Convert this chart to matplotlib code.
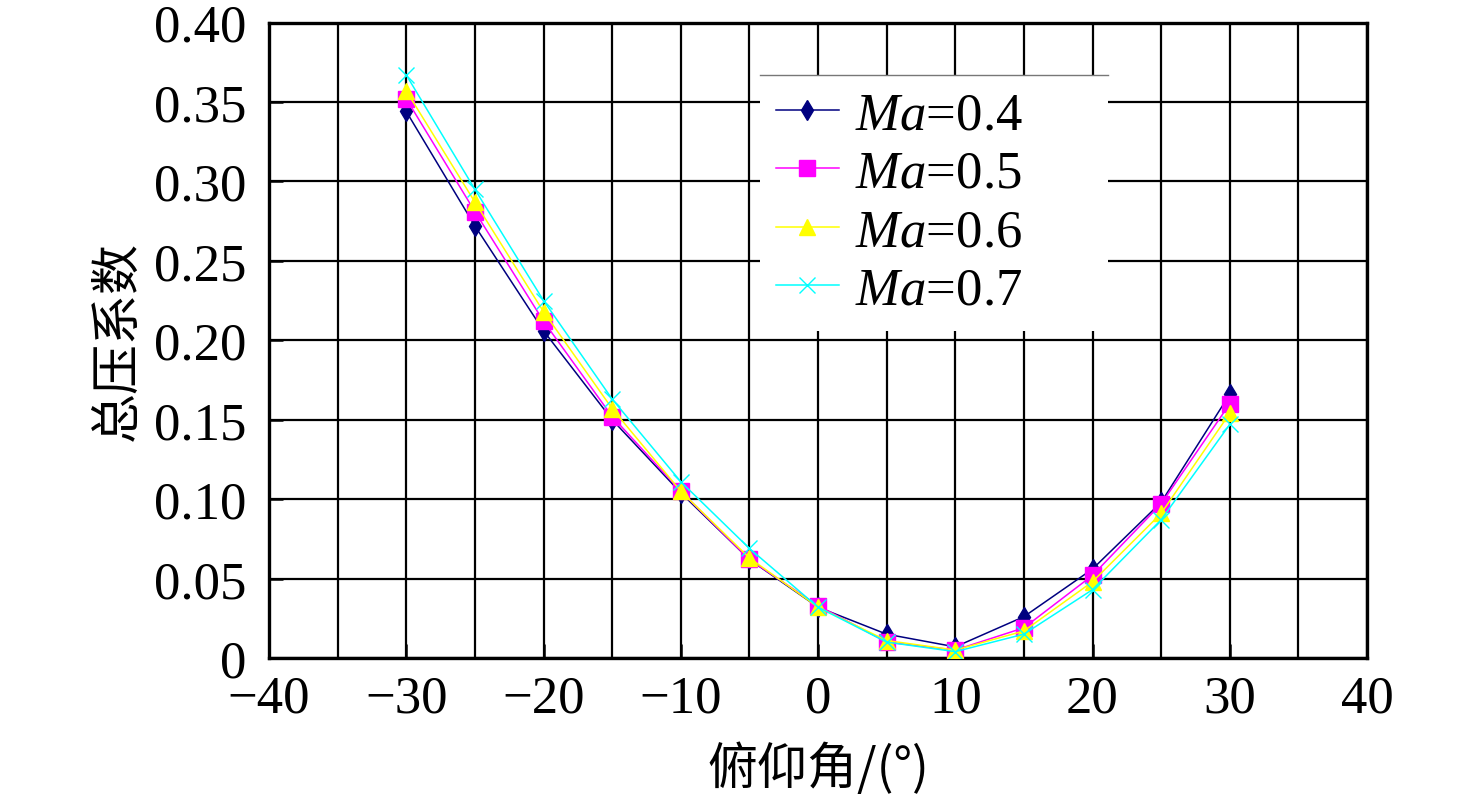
import matplotlib
matplotlib.use("Agg")
import matplotlib.pyplot as plt
from matplotlib.lines import Line2D
from matplotlib.ticker import FixedLocator, FuncFormatter

plt.rcParams["font.family"] = ["Liberation Serif", "Noto Sans CJK SC", "DejaVu Sans"]
plt.rcParams["mathtext.fontset"] = "custom"
plt.rcParams["mathtext.rm"] = "Liberation Serif"
plt.rcParams["mathtext.it"] = "Liberation Serif:italic"

# pitch angle (deg) and total pressure coefficient per Mach number
angle = [-30, -25, -20, -15, -10, -5, 0, 5, 10, 15, 20, 25, 30]
ma04 = [0.344, 0.272, 0.206, 0.150, 0.104, 0.062, 0.032, 0.015, 0.007, 0.026, 0.056, 0.098, 0.166]
ma05 = [0.352, 0.281, 0.212, 0.152, 0.105, 0.062, 0.033, 0.010, 0.005, 0.019, 0.052, 0.097, 0.160]
ma06 = [0.357, 0.287, 0.218, 0.157, 0.105, 0.063, 0.032, 0.011, 0.005, 0.017, 0.048, 0.091, 0.154]
ma07 = [0.367, 0.295, 0.225, 0.163, 0.111, 0.069, 0.032, 0.010, 0.004, 0.015, 0.043, 0.087, 0.147]
labels = [r"$\mathit{Ma}$=0.4", r"$\mathit{Ma}$=0.5", r"$\mathit{Ma}$=0.6", r"$\mathit{Ma}$=0.7"]

fig = plt.figure(figsize=(14.76, 8.04), dpi=100)
ax = fig.add_axes([269 / 1476, 145 / 804, 1098 / 1476, 635.5 / 804])

styles = [
    dict(color="#000080", marker="d", markersize=10),
    dict(color="#FF00FF", marker="s", markersize=11),
    dict(color="#FFFF00", marker="^", markersize=11),
    dict(color="#00FFFF", marker="x", markersize=11, markeredgewidth=1.0),
]
for ys, lab, st in zip([ma04, ma05, ma06, ma07], labels, styles):
    ax.plot(angle, ys, linewidth=1.1, label=lab, zorder=3, **st)

ax.set_xlim(-40, 40)
ax.set_ylim(0, 0.40)
ax.xaxis.set_major_locator(FixedLocator(range(-40, 41, 10)))
ax.xaxis.set_minor_locator(FixedLocator(range(-35, 40, 10)))
ax.yaxis.set_major_locator(FixedLocator([i * 0.05 for i in range(9)]))
ax.yaxis.set_major_formatter(FuncFormatter(lambda v, p: "0" if abs(v) < 1e-9 else f"{v:.2f}"))

ax.grid(True, which="both", color="black", linewidth=1.6)
ax.set_axisbelow(True)
for s in ax.spines.values():
    s.set_linewidth(2.4)
ax.tick_params(which="major", direction="in", length=10, width=1.8, labelsize=38)
ax.tick_params(which="minor", length=0)
ax.tick_params(axis="y", pad=16)
ax.tick_params(axis="x", pad=12)

ax.set_xlabel("俯仰角/(°)", fontsize=36, family=["Noto Sans CJK SC", "DejaVu Sans"], labelpad=14)
ax.set_ylabel("总压系数", fontsize=36, family=["Noto Sans CJK SC"], labelpad=8)

leg_x0, leg_w, leg_top = 0.447, 0.317, 0.917
leg = ax.legend(loc="upper left", bbox_to_anchor=(leg_x0, leg_top - 0.5, leg_w, 0.5),
                mode="expand", fontsize=38,
                frameon=True, fancybox=False, framealpha=1, facecolor="white",
                edgecolor="none", handlelength=1.2, handletextpad=0.3,
                labelspacing=0.2, borderpad=0.3, borderaxespad=0)
leg.set_zorder(5)
ax.add_line(Line2D([leg_x0, leg_x0 + leg_w], [leg_top, leg_top], transform=ax.transAxes,
                   color="#777777", linewidth=1.0, zorder=6))

fig.savefig("out.png", dpi=100, facecolor="white")
